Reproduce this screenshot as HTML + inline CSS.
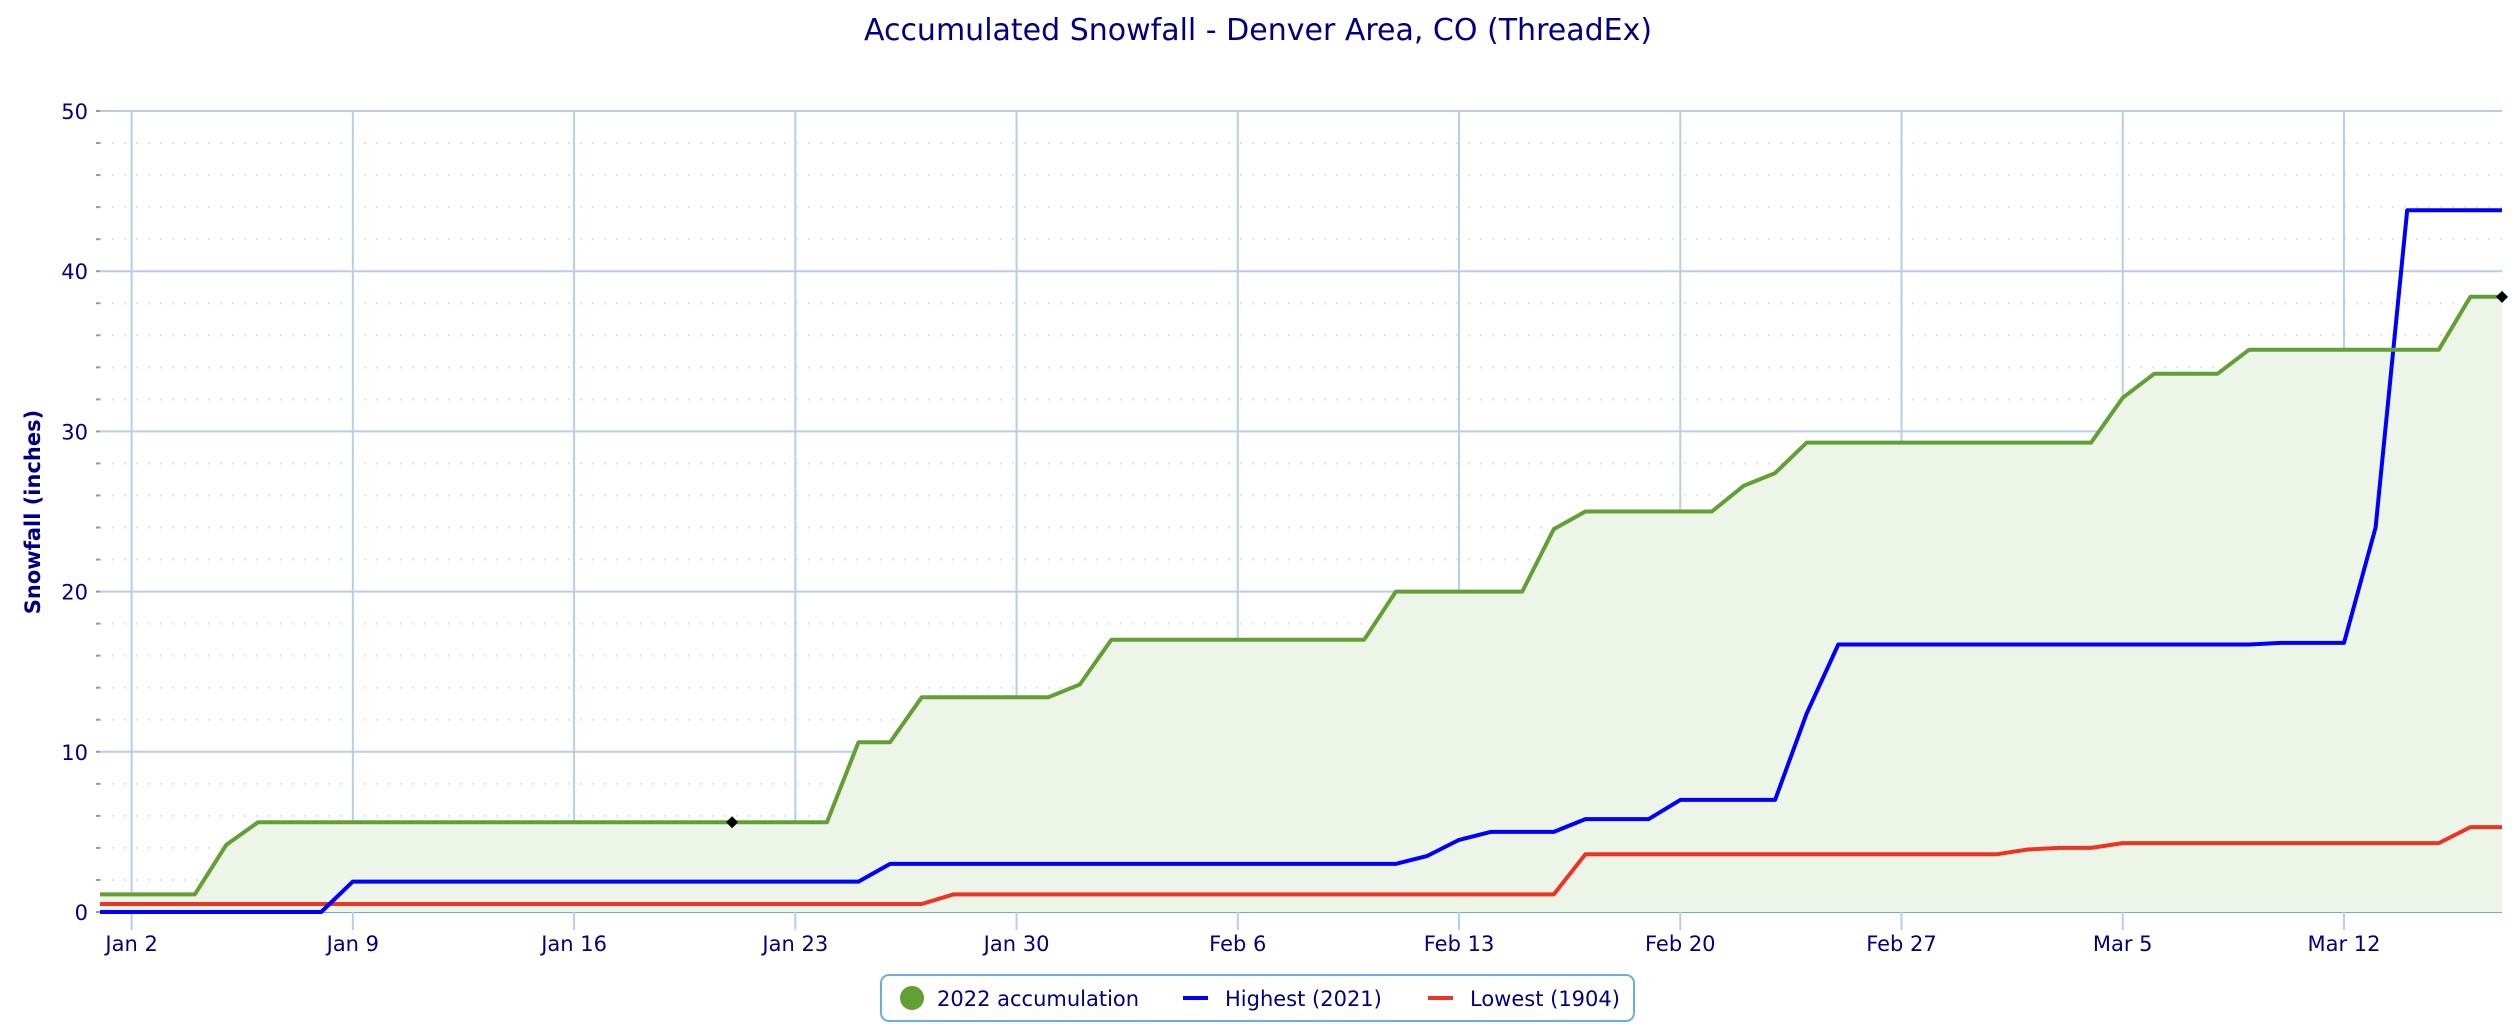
<!DOCTYPE html>
<html><head><meta charset="utf-8"><style>
html,body{margin:0;padding:0;background:#fff;}
svg{display:block;font-family:"DejaVu Sans","Liberation Sans",sans-serif;}
</style></head><body>
<svg id="chart" width="2516" height="1030" viewBox="0 0 2516 1030" xmlns="http://www.w3.org/2000/svg">
<text x="1258" y="40" text-anchor="middle" font-size="30" fill="#000080">Accumulated Snowfall - Denver Area, CO (ThreadEx)</text>
<text transform="translate(40,512) rotate(-90)" text-anchor="middle" font-size="21" font-weight="bold" fill="#000080">Snowfall (inches)</text>
<g id="grid"></g><g id="series"></g><g id="axes"></g>
<g>
<rect x="881" y="975" width="753" height="46" rx="8" fill="#fff" stroke="#6aaee0" stroke-width="2"/>
<g><circle cx="912" cy="998" r="12" fill="#62a034"/><text x="937" y="1006" font-size="21" fill="#000080">2022 accumulation</text></g>
<g><line x1="1183" y1="998" x2="1208" y2="998" stroke="#0000ff" stroke-width="4"/><text x="1225" y="1006" font-size="21" fill="#000080">Highest (2021)</text></g>
<g><line x1="1428" y1="998" x2="1453" y2="998" stroke="#ee3322" stroke-width="4"/><text x="1470" y="1006" font-size="21" fill="#000080">Lowest (1904)</text></g>
</g>
</svg>
<script>
const tickLabels=["Jan 2","Jan 9","Jan 16","Jan 23","Jan 30","Feb 6","Feb 13","Feb 20","Feb 27","Mar 5","Mar 12"];
const yTicks=[0,10,20,30,40,50];
const s2022=[1.1,1.1,1.1,1.1,4.2,5.6,5.6,5.6,5.6,5.6,5.6,5.6,5.6,5.6,5.6,5.6,5.6,5.6,5.6,5.6,5.6,5.6,5.6,5.6,10.6,10.6,13.4,13.4,13.4,13.4,13.4,14.2,17.0,17.0,17.0,17.0,17.0,17.0,17.0,17.0,17.0,20.0,20.0,20.0,20.0,20.0,23.9,25.0,25.0,25.0,25.0,25.0,26.6,27.4,29.3,29.3,29.3,29.3,29.3,29.3,29.3,29.3,29.3,29.3,32.1,33.6,33.6,33.6,35.1,35.1,35.1,35.1,35.1,35.1,35.1,38.4,38.4];
const s2021=[0,0,0,0,0,0,0,0,1.9,1.9,1.9,1.9,1.9,1.9,1.9,1.9,1.9,1.9,1.9,1.9,1.9,1.9,1.9,1.9,1.9,3.0,3.0,3.0,3.0,3.0,3.0,3.0,3.0,3.0,3.0,3.0,3.0,3.0,3.0,3.0,3.0,3.0,3.5,4.5,5.0,5.0,5.0,5.8,5.8,5.8,7.0,7.0,7.0,7.0,12.4,16.7,16.7,16.7,16.7,16.7,16.7,16.7,16.7,16.7,16.7,16.7,16.7,16.7,16.7,16.8,16.8,16.8,24.0,43.8,43.8,43.8,43.8];
const s1904=[0.5,0.5,0.5,0.5,0.5,0.5,0.5,0.5,0.5,0.5,0.5,0.5,0.5,0.5,0.5,0.5,0.5,0.5,0.5,0.5,0.5,0.5,0.5,0.5,0.5,0.5,0.5,1.1,1.1,1.1,1.1,1.1,1.1,1.1,1.1,1.1,1.1,1.1,1.1,1.1,1.1,1.1,1.1,1.1,1.1,1.1,1.1,3.6,3.6,3.6,3.6,3.6,3.6,3.6,3.6,3.6,3.6,3.6,3.6,3.6,3.6,3.9,4.0,4.0,4.3,4.3,4.3,4.3,4.3,4.3,4.3,4.3,4.3,4.3,4.3,5.3,5.3];
const markIdx=[20];
const NS="http://www.w3.org/2000/svg";
const L=100,R=2502,T=111,B=912,N=77;
const x=i=>L+i*(R-L)/(N-1);
const y=v=>B-(v/50)*(B-T);
function mk(tag,attrs,parent){const e=document.createElementNS(NS,tag);for(const k in attrs)e.setAttribute(k,attrs[k]);parent.appendChild(e);return e;}
const grid=document.getElementById('grid'),axes=document.getElementById('axes'),ser=document.getElementById('series');
for(let v=0;v<50;v+=2){if(v%10===0)continue;const g=mk('line',{x1:L,x2:R,y1:y(v),y2:y(v),stroke:'#e4e4e4','stroke-width':2,'stroke-dasharray':'2,10'},grid);


const t=mk('line',{x1:96,x2:100,y1:y(v),y2:y(v),stroke:'#999','stroke-width':2},axes);

}
yTicks.forEach(v=>{const g=mk('line',{x1:L,x2:R,y1:y(v),y2:y(v),stroke:v===0?'#6aaee0':'#b6cfe5','stroke-width':2},grid);


const t=mk('line',{x1:96,x2:100,y1:y(v),y2:y(v),stroke:'#999','stroke-width':2},axes);


const tx=mk('text',{x:88,y:y(v)+8,'text-anchor':'end','font-size':21,fill:'#000080'},axes);tx.textContent=v;

});
tickLabels.forEach((lab,k)=>{const i=1+7*k;const g=mk('line',{x1:x(i),x2:x(i),y1:T,y2:B+18,stroke:'#b6cfe5','stroke-width':2},grid);


const tx=mk('text',{x:x(i),y:B+39,'text-anchor':'middle','font-size':21,fill:'#000080'},axes);tx.textContent=lab;

});
const pts=a=>a.map((v,i)=>x(i).toFixed(1)+','+y(v).toFixed(1)).join(' ');
const area=mk('polygon',{points:pts(s2022)+` ${x(N-1)},${y(0)} ${x(0)},${y(0)}`,fill:'#edf4e8'},ser);


const l1=mk('polyline',{points:pts(s1904),fill:'none',stroke:'#ee3322','stroke-width':4,'stroke-linejoin':'round'},ser);


const l2=mk('polyline',{points:pts(s2021),fill:'none',stroke:'#0000ff','stroke-width':4,'stroke-linejoin':'round'},ser);


const l3=mk('polyline',{points:pts(s2022),fill:'none',stroke:'#62a034','stroke-width':4,'stroke-linejoin':'round'},ser);


markIdx.concat([N-1]).forEach(i=>{const cx=x(i),cy=y(s2022[i]);const d=mk('polygon',{points:`${cx},${cy-6} ${cx+6},${cy} ${cx},${cy+6} ${cx-6},${cy}`,fill:'#000'},ser);

});
</script>
</body></html>
